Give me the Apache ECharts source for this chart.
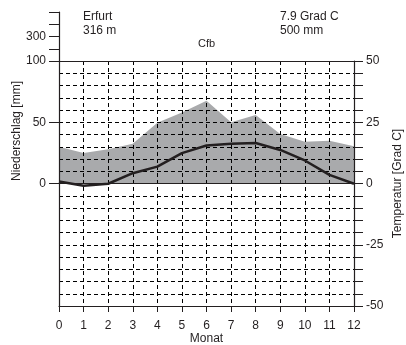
<!DOCTYPE html>
<html>
<head>
<meta charset="utf-8">
<script src="https://cdn.jsdelivr.net/npm/echarts@6/dist/echarts.min.js"></script>
<style>
  html, body { margin: 0; padding: 0; background: #fff; }
  #klima { width: 406px; height: 345px; }
</style>
</head>
<body>
<div id="klima"></div>
<script>
  // Monat 0 = Dezember wiederholt, 1..12 = Jan..Dez
  const monate = [0, 1, 2, 3, 4, 5, 6, 7, 8, 9, 10, 11, 12];
  const niederschlag = [30, 25, 28, 32.5, 49.5, 58, 67.5, 50, 56, 40.5, 34, 35, 30.5];
  const temperatur = [0.8, -0.9, -0.1, 4.2, 6.9, 12.4, 15.5, 16.2, 16.5, 13.7, 9.4, 3.5, -0.1];
  const mmTicks = [0, 50, 100];
  const tempTicks = [-50, -25, 0, 25, 50];
  const obenTicks = [300];

  const station = 'Erfurt';
  const hoehe = '316 m';
  const mittelTemp = '7.9 Grad C';
  const summeMm = '500 mm';
  const klimaTyp = 'Cfb';

  const schwarz = '#231f20';
  const font = 'Liberation Sans, Arial, sans-serif';
  const dash = { color: '#000', width: 1, type: [4, 3] };

  const chart = echarts.init(document.getElementById('klima'));
  const option = {
    animation: false,
    textStyle: { fontFamily: font, color: schwarz },
    grid: [
      { left: 59, right: 52, top: 61, bottom: 39, outerBoundsMode: 'none', containLabel: false },
      { left: 59, width: 1, top: 12, height: 49, outerBoundsMode: 'none', containLabel: false }
    ],
    xAxis: [{
      type: 'value', gridIndex: 0, min: 0, max: 12, interval: 1,
      position: 'bottom', z: 3,
      name: 'Monat', nameLocation: 'middle', nameGap: 27, nameMoveOverlap: false,
      nameTextStyle: { fontSize: 12, color: schwarz },
      axisLine: { onZero: false, lineStyle: { color: schwarz, width: 1.2 } },
      axisTick: { length: 6, lineStyle: { color: schwarz } },
      axisLabel: { fontSize: 12, color: schwarz, margin: 14 },
      splitLine: { show: true, lineStyle: dash }
    }, {
      type: 'value', gridIndex: 0, min: 0, max: 12, position: 'top', z: 3,
      axisLine: { onZero: false, lineStyle: { color: schwarz, width: 1.2 } },
      axisTick: { show: false }, axisLabel: { show: false }, splitLine: { show: false }
    }, {
      type: 'value', gridIndex: 1, show: false, min: 0, max: 1
    }],
    yAxis: [{
      type: 'value', gridIndex: 0, min: -100, max: 100, interval: 50, position: 'left', z: 3,
      axisLine: { show: true, onZero: false, lineStyle: { color: schwarz, width: 1.2 } },
      axisTick: { show: true, length: 10, customValues: mmTicks, lineStyle: { color: schwarz } },
      axisLabel: { fontSize: 12, color: schwarz, margin: 13, customValues: mmTicks },
      splitLine: { show: false }
    }, {
      type: 'value', gridIndex: 0, min: -50, max: 50, interval: 5, position: 'right', z: 3,
      name: 'Temperatur [Grad C]', nameLocation: 'middle', nameGap: 38, nameRotate: 90,
      nameMoveOverlap: false,
      nameTextStyle: { fontSize: 12, color: schwarz },
      axisLine: { show: true, onZero: false, lineStyle: { color: schwarz, width: 1.2 } },
      axisTick: { show: true, length: 9, lineStyle: { color: schwarz } },
      axisLabel: { fontSize: 12, color: schwarz, margin: 12, customValues: tempTicks },
      splitLine: { show: true, lineStyle: dash }
    }, {
      type: 'value', gridIndex: 1, min: 100, max: 500, interval: 100, position: 'left', z: 3,
      axisLine: { show: true, onZero: false, lineStyle: { color: schwarz, width: 1.2 } },
      axisTick: { show: true, length: 10, lineStyle: { color: schwarz } },
      axisLabel: { fontSize: 12, color: schwarz, margin: 13, customValues: obenTicks },
      splitLine: { show: false }
    }],
    graphic: [
      { type: 'text', left: 83, top: 10, style: { text: station + '\n' + hoehe, font: '12px ' + font, fill: schwarz, lineHeight: 14 } },
      { type: 'text', left: 280, top: 10, style: { text: mittelTemp + '\n' + summeMm, font: '12px ' + font, fill: schwarz, lineHeight: 14 } },
      { type: 'text', left: 198, top: 38, style: { text: klimaTyp, font: '11px ' + font, fill: schwarz } },
      { type: 'text', x: 17, y: 131, rotation: Math.PI / 2,
        style: { text: 'Niederschlag [mm]', font: '12px ' + font, fill: schwarz, align: 'center', verticalAlign: 'middle' } }
    ],
    series: [{
      name: 'Niederschlag', type: 'line', xAxisIndex: 0, yAxisIndex: 0, z: 1,
      data: monate.map((m, i) => [m, niederschlag[i]]),
      symbol: 'none', lineStyle: { width: 0 },
      areaStyle: { color: '#a9aaac', opacity: 1 }
    }, {
      name: 'Temperatur', type: 'line', xAxisIndex: 0, yAxisIndex: 1, z: 5,
      data: monate.map((m, i) => [m, temperatur[i]]),
      symbol: 'none', lineStyle: { color: schwarz, width: 2.5 },
      markLine: {
        silent: true, symbol: 'none', label: { show: false },
        lineStyle: { color: schwarz, width: 1.2, type: 'solid' },
        data: [{ yAxis: 0 }]
      }
    }]
  };
  chart.setOption(option);
</script>
</body>
</html>
